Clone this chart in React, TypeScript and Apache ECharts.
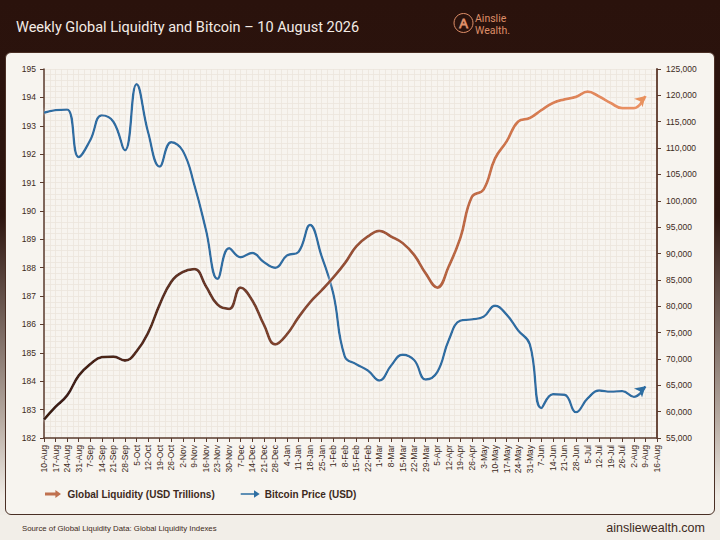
import { useEffect, useRef } from 'react';
import * as echarts from 'echarts';

const weeks = [
  '10-Aug', '17-Aug', '24-Aug', '31-Aug', '7-Sep', '14-Sep', '21-Sep', '28-Sep',
  '5-Oct', '12-Oct', '19-Oct', '26-Oct', '2-Nov', '9-Nov', '16-Nov', '23-Nov', '30-Nov',
  '7-Dec', '14-Dec', '21-Dec', '28-Dec', '4-Jan', '11-Jan', '18-Jan', '25-Jan',
  '1-Feb', '8-Feb', '15-Feb', '22-Feb', '1-Mar', '8-Mar', '15-Mar', '22-Mar', '29-Mar',
  '5-Apr', '12-Apr', '19-Apr', '26-Apr', '3-May', '10-May', '17-May', '24-May', '31-May',
  '7-Jun', '14-Jun', '21-Jun', '28-Jun', '5-Jul', '12-Jul', '19-Jul', '26-Jul',
  '2-Aug', '9-Aug', '16-Aug',
];

// USD trillions, weekly
const liquidity = [
  182.65, 183.1, 183.5, 184.2, 184.6, 184.85, 184.87, 184.73,
  185.05, 185.7, 186.7, 187.5, 187.85, 187.95, 187.35, 186.7, 186.55,
  187.3, 186.85, 186.0, 185.3, 185.65, 186.25, 186.78, 187.2,
  187.65, 188.15, 188.75, 189.1, 189.3, 189.1, 188.87, 188.45, 187.8,
  187.3, 188.05, 189.05, 190.5, 190.75, 191.85, 192.45, 193.15, 193.27,
  193.55, 193.8, 193.93, 194.02, 194.2, 194.03, 193.8, 193.62,
  193.62, 194.05,
];

// USD
const bitcoin = [
  116700, 117200, 117300, 108300, 111500, 116200, 115000, 109600,
  122100, 113000, 106500, 111100, 109500, 103000, 94500, 85200, 91000,
  89300, 90100, 88400, 87300, 89600, 90300, 95400, 89500,
  82500, 70500, 69000, 67800, 65900, 68700, 70800, 69800, 66100,
  67500, 73600, 77250, 77500, 78000, 80100, 78400, 75400, 72800,
  60700, 63300, 63200, 59900, 62500, 64000, 63800, 63900,
  62800, 64800,
];

const liquidityName = 'Global Liquidity (USD Trillions)';
const bitcoinName = 'Bitcoin Price (USD)';

const FONT = '"Liberation Sans", Arial, sans-serif';
const HEAD = 'Roboto, "Liberation Sans", sans-serif';
const INK = '#3d2a21';
const AXIS = '#5a3b2e';
const GRIDLINE = '#ebe4dc';
const BLUE = '#2d6ea2';
const ORANGE = '#c0714f';
const LOGO = '#de8e68';

function withArrow(values: number[], color: string, rotate: number) {
  return values.map((v, i) =>
    i === values.length - 1
      ? { value: v, symbol: 'arrow', symbolSize: [9, 10], symbolRotate: rotate, itemStyle: { color } }
      : v
  );
}

export default function App() {
  const chartRef = useRef<HTMLDivElement>(null);

  useEffect(() => {
    document.body.style.margin = '0';
    if (!chartRef.current) return;
    const chart = echarts.init(chartRef.current, undefined, { renderer: 'svg' });

    const option: echarts.EChartsOption = {
      animation: false,
      backgroundColor: 'transparent',
      title: {
        text: 'Weekly Global Liquidity and Bitcoin – 10 August 2026',
        left: 11,
        top: 15,
        textStyle: { color: '#f4ece6', fontSize: 14.5, fontWeight: 400, fontFamily: HEAD },
      },
      grid: { left: 44, right: 63, top: 69, bottom: 102 },
      legend: {
        left: 45,
        top: 489,
        padding: 0,
        itemWidth: 19,
        itemHeight: 8,
        itemGap: 26,
        textStyle: { color: INK, fontSize: 10, fontWeight: 600, fontFamily: FONT },
        data: [
          {
            name: liquidityName,
            icon: 'path://M0,3 L13,3 L13,0 L20,5 L13,10 L13,7 L0,7 Z',
            itemStyle: { color: ORANGE },
          },
          {
            name: bitcoinName,
            icon: 'path://M0,4.1 L14,4.1 L14,1 L20,5 L14,9 L14,5.9 L0,5.9 Z',
            itemStyle: { color: BLUE },
          },
        ],
      },
      xAxis: [
        {
          type: 'category',
          data: weeks,
          boundaryGap: false,
          axisLine: { lineStyle: { color: AXIS, width: 1.5 } },
          axisTick: { show: true, interval: 0, length: 4, lineStyle: { color: AXIS } },
          axisLabel: {
            interval: 0,
            rotate: 90,
            margin: 7,
            color: INK,
            fontSize: 8.5,
            fontFamily: FONT,
          },
          splitLine: { show: false },
        },
        {
          // graph-paper verticals, half a week apart
          type: 'value',
          position: 'top',
          min: 0,
          max: weeks.length - 1,
          interval: 0.5,
          axisLine: { show: false },
          axisTick: { show: false },
          axisLabel: { show: false },
          splitLine: { show: true, lineStyle: { color: GRIDLINE, width: 0.8 } },
        },
      ],
      yAxis: [
        {
          type: 'value',
          min: 182,
          max: 195,
          interval: 1,
          axisLine: { show: true, lineStyle: { color: AXIS, width: 1.5 } },
          axisTick: { show: true, length: 4, lineStyle: { color: AXIS } },
          axisLabel: { color: INK, fontSize: 8.5, margin: 8, fontFamily: FONT },
          splitLine: { show: true, lineStyle: { color: GRIDLINE, width: 0.8 } },
          minorTick: { show: false, splitNumber: 5 },
          minorSplitLine: { show: true, lineStyle: { color: GRIDLINE, width: 0.8 } },
        },
        {
          type: 'value',
          min: 55000,
          max: 125000,
          interval: 5000,
          position: 'right',
          axisLine: { show: true, lineStyle: { color: '#6b4a3c', width: 2 } },
          axisTick: { show: true, length: 4, lineStyle: { color: AXIS } },
          axisLabel: {
            color: INK,
            fontSize: 8.5,
            margin: 9,
            fontFamily: FONT,
            formatter: (v: number) => v.toLocaleString('en-US'),
          },
          splitLine: { show: false },
        },
      ],
      series: [
        {
          name: bitcoinName,
          type: 'line',
          yAxisIndex: 1,
          data: withArrow(bitcoin, BLUE, -48),
          smooth: 0.45,
          symbol: 'none',
          showSymbol: true,
          showAllSymbol: true,
          itemStyle: { color: BLUE },
          lineStyle: {
            color: BLUE,
            width: 2.4,
            shadowColor: 'rgba(255,255,255,0.9)',
            shadowBlur: 4,
          },
          z: 3,
        },
        {
          name: liquidityName,
          type: 'line',
          yAxisIndex: 0,
          data: withArrow(liquidity, '#e8925e', -45),
          smooth: 0.45,
          symbol: 'none',
          showSymbol: true,
          showAllSymbol: true,
          itemStyle: { color: ORANGE },
          lineStyle: {
            width: 2.8,
            color: new echarts.graphic.LinearGradient(0, 0, 1, 0, [
              { offset: 0, color: '#3a1a10' },
              { offset: 0.3, color: '#6e3a28' },
              { offset: 0.6, color: '#a85a3a' },
              { offset: 0.8, color: '#d47a4e' },
              { offset: 1, color: '#ec9466' },
            ]),
            shadowColor: 'rgba(255,255,255,0.9)',
            shadowBlur: 4,
          },
          z: 4,
        },
      ],
      graphic: [
        {
          type: 'circle',
          shape: { cx: 463.5, cy: 23, r: 9.5 },
          style: { fill: 'none', stroke: LOGO, lineWidth: 1 },
        },
        {
          type: 'text',
          x: 463.5,
          y: 23.5,
          style: {
            text: 'A',
            fill: 'none',
            stroke: LOGO,
            lineWidth: 0.9,
            fontSize: 13,
            fontFamily: FONT,
            align: 'center',
            verticalAlign: 'middle',
          },
        },
        {
          type: 'text',
          x: 475,
          y: 18.5,
          style: {
            text: 'Ainslie',
            fill: LOGO,
            fontSize: 10.5,
            fontFamily: HEAD,
            verticalAlign: 'middle',
          },
        },
        {
          type: 'text',
          x: 475,
          y: 30.5,
          style: {
            text: 'Wealth.',
            fill: LOGO,
            fontSize: 10.5,
            fontFamily: HEAD,
            verticalAlign: 'middle',
          },
        },
        {
          type: 'text',
          x: 22,
          y: 528,
          style: {
            text: 'Source of Global Liquidity Data: Global Liquidity Indexes',
            fill: INK,
            fontSize: 7.8,
            fontFamily: FONT,
            verticalAlign: 'middle',
          },
        },
        {
          type: 'text',
          x: 705,
          y: 527.5,
          style: {
            text: 'ainsliewealth.com',
            fill: INK,
            fontSize: 12.5,
            fontFamily: FONT,
            align: 'right',
            verticalAlign: 'middle',
          },
        },
      ],
    };

    chart.setOption(option);

    return () => {
      chart.dispose();
    };
  }, []);

  return (
    <div
      style={{
        position: 'relative',
        width: 720,
        height: 540,
        overflow: 'hidden',
        background: 'linear-gradient(180deg, #2a120c 0%, #2d150f 40%, #b8aca3 78%, #efebe5 92%, #f2eee8 100%)',
      }}
    >
      <div
        style={{
          position: 'absolute',
          left: 0,
          top: 515,
          width: 720,
          height: 25,
          background: '#f2eee8',
        }}
      />
      <div
        style={{
          position: 'absolute',
          left: 5,
          top: 52,
          width: 708,
          height: 461,
          background: '#f7f4ef',
          border: '1.5px solid #4a2f25',
          borderRadius: 6,
        }}
      />
      <div ref={chartRef} style={{ position: 'absolute', left: 0, top: 0, width: 720, height: 540 }} />
    </div>
  );
}
